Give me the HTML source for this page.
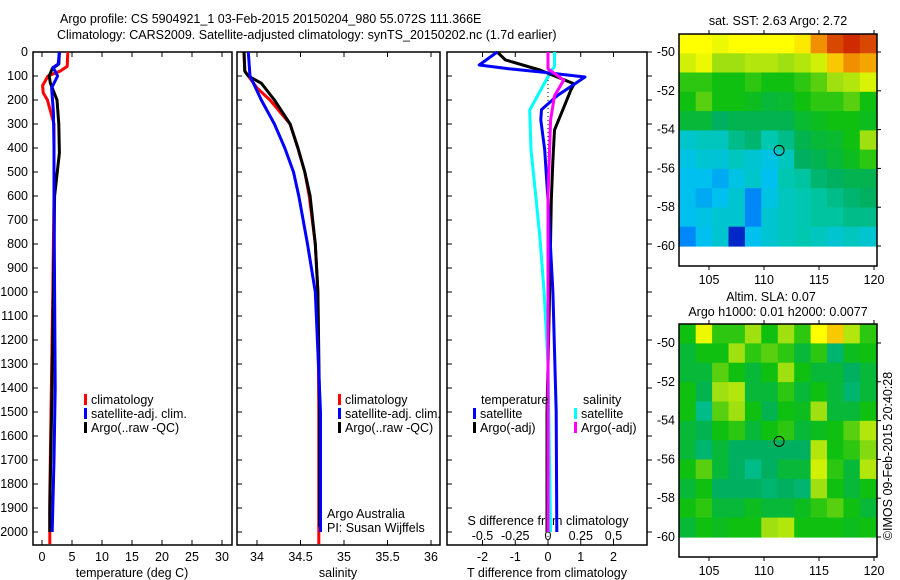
<!DOCTYPE html>
<html><head><meta charset="utf-8"><style>
body{margin:0;background:#fff;}
svg{display:block;font-family:"Liberation Sans",sans-serif;font-size:12.5px;}
</style></head><body>
<svg id="s" width="900" height="580" viewBox="0 0 900 580">
<text x="60" y="23">Argo profile: CS 5904921_1 03-Feb-2015 20150204_980 55.072S 111.366E</text>
<text x="57" y="39">Climatology: CARS2009. Satellite-adjusted climatology: synTS_20150202.nc (1.7d earlier)</text>
</svg>
<script>
// ---------- data ----------
const depthTicks=[0,100,200,300,400,500,600,700,800,900,1000,1100,1200,1300,1400,1500,1600,1700,1800,1900,2000];
const tempTicks=[0,5,10,15,20,25,30];
const salTicks=[34,34.5,35,35.5,36];
const tdiffTicks=[-2,-1,0,1,2];
const sdiffTicks=[-0.5,-0.25,0,0.25,0.5];
const climTDepth=[0,60,80,100,140,170,200,300,600,1000,1500,1850,2050];
const climTVal=[4.3,4.2,3.0,1.0,0.1,0.2,0.9,2.0,2.0,1.8,1.5,1.3,1.3];
const satTDepth=[0,50,65,80,100,150,250,400,600,1000,1400,1700,2000];
const satTVal=[2.9,2.7,1.8,2.2,2.6,1.6,1.9,2.0,2.0,2.1,2.2,2.0,1.7];
const argoTDepth=[0,50,70,100,130,200,300,420,600,1000,1500,1900,2000];
const argoTVal=[2.9,2.8,1.7,1.2,1.4,2.5,2.8,2.9,2.1,1.9,1.6,1.3,1.3];
const climSDepth=[0,80,100,150,200,300,400,500,600,800,1000,1500,2050];
const climSVal=[33.85,33.86,33.9,34.0,34.15,34.38,34.47,34.55,34.6,34.67,34.7,34.71,34.71];
const satSDepth=[0,100,200,300,400,500,600,800,1000,1500,2000];
const satSVal=[33.9,33.92,34.05,34.2,34.32,34.42,34.48,34.58,34.67,34.73,34.73];
const argoSDepth=[0,80,100,130,200,300,400,500,600,800,1000,1500,1980];
const argoSVal=[33.85,33.86,33.9,34.05,34.2,34.38,34.47,34.55,34.61,34.67,34.7,34.72,34.72];
const satTdDepth=[0,54,70,83,104,180,240,283,408,617,1000,1500,2000];
const satTdVal=[-1.55,-2.1,-1.2,-0.25,1.13,0.3,-0.2,-0.22,-0.1,0.0,0.15,0.25,0.27];
const argoTdDepth=[0,33,75,133,158,242,325,450,617,1000,1500,2000];
const argoTdVal=[-1.55,-1.3,-0.25,0.8,0.7,0.45,0.2,0.15,0.1,0.05,-0.03,-0.03];
const satSdDepth=[0,60,83,183,242,408,617,783,1000,1300,2000];
const satSdVal=[0.05,0.05,0.02,-0.08,-0.14,-0.13,-0.09,-0.06,-0.03,0.0,0.02];
const argoSdDepth=[0,70,117,183,283,600,1000,2000];
const argoSdVal=[0,0,0.12,0.05,0.02,0.0,0.0,0.0];
const sstGrid=[
[0.8,0.8,0.78,0.8,0.8,0.8,0.8,0.82,0.9,0.95,0.97,0.95],
[0.75,0.78,0.7,0.7,0.72,0.72,0.7,0.72,0.75,0.85,0.9,0.88],
[0.62,0.62,0.6,0.6,0.62,0.6,0.6,0.62,0.65,0.7,0.72,0.76],
[0.6,0.65,0.6,0.6,0.58,0.55,0.56,0.6,0.62,0.62,0.65,0.6],
[0.55,0.55,0.5,0.52,0.52,0.52,0.52,0.56,0.58,0.6,0.6,0.58],
[0.36,0.38,0.38,0.45,0.48,0.4,0.45,0.52,0.55,0.56,0.6,0.7],
[0.32,0.35,0.34,0.38,0.35,0.32,0.38,0.5,0.52,0.55,0.58,0.62],
[0.3,0.3,0.28,0.32,0.36,0.3,0.4,0.42,0.48,0.5,0.52,0.52],
[0.3,0.28,0.3,0.35,0.25,0.32,0.38,0.4,0.42,0.45,0.48,0.5],
[0.3,0.32,0.35,0.35,0.25,0.35,0.38,0.4,0.42,0.42,0.45,0.45],
[0.25,0.3,0.35,0.1,0.3,0.35,0.38,0.4,0.38,0.35,0.38,0.35]];
const slaGrid=[
[0.6,0.78,0.62,0.62,0.7,0.6,0.7,0.62,0.8,0.85,0.72,0.62],
[0.55,0.6,0.6,0.7,0.62,0.65,0.62,0.55,0.62,0.48,0.58,0.6],
[0.55,0.55,0.65,0.6,0.55,0.6,0.7,0.6,0.55,0.55,0.5,0.55],
[0.6,0.52,0.7,0.72,0.55,0.55,0.62,0.55,0.6,0.55,0.48,0.55],
[0.6,0.45,0.65,0.7,0.6,0.52,0.6,0.58,0.7,0.55,0.55,0.6],
[0.55,0.52,0.6,0.62,0.55,0.6,0.62,0.55,0.58,0.6,0.65,0.72],
[0.55,0.48,0.55,0.5,0.5,0.5,0.5,0.5,0.72,0.6,0.62,0.68],
[0.6,0.65,0.55,0.5,0.45,0.5,0.55,0.55,0.75,0.62,0.55,0.72],
[0.55,0.6,0.5,0.5,0.5,0.48,0.5,0.48,0.7,0.6,0.55,0.6],
[0.6,0.62,0.55,0.55,0.58,0.55,0.55,0.58,0.62,0.65,0.6,0.55],
[0.55,0.6,0.58,0.6,0.6,0.7,0.72,0.6,0.6,0.6,0.58,0.6]];
const latTicks=[-50,-52,-54,-56,-58,-60];
const lonTicks=[105,110,115,120];
const argoLon=111.37, argoLat=-55.07;

// ---------- helpers ----------
const svg=document.getElementById('s');
const NS='http://www.w3.org/2000/svg';
function mk(tag,attrs,txt){const e=document.createElementNS(NS,tag);for(const k in attrs)e.setAttribute(k,attrs[k]);if(txt!==undefined)e.textContent=txt;svg.appendChild(e);return e;}
const yD=d=>52+d*0.24;
const xT=t=>42+t*6.0;
const xS=s=>257+(s-34)*87;
const xTd=t=>548+t*32.75;
const xSd=s=>548+s*131;
const P=[{x0:33,x1:232},{x0:237,x1:440},{x0:447,x1:647}];
const YT=52,YB=545;

// frames
P.forEach((p,i)=>{
  const r=mk('rect',{x:p.x0,y:YT,width:p.x1-p.x0,height:YB-YT,fill:'none',stroke:'#000','stroke-width':1.5});
  
  
  depthTicks.forEach(d=>{const t=mk('line',{x1:p.x0,x2:p.x0+5,y1:yD(d),y2:yD(d),stroke:'#000'});
    });
});
depthTicks.forEach(d=>{
  const t=mk('text',{x:28,y:yD(d)+4,'text-anchor':'end'},d);
  
  
  const k=mk('line',{x1:647,x2:652,y1:yD(d),y2:yD(d),stroke:'#000'});
  
});
function xticks(ticks,fx,p,y,name){ticks.forEach(v=>{
  const x=fx(v);
  const a=mk('line',{x1:x,x2:x,y1:YB,y2:YB-5,stroke:'#000'});
  const b=mk('line',{x1:x,x2:x,y1:YT,y2:YT+5,stroke:'#000'});
  const t=mk('text',{x:x,y:y,'text-anchor':'middle'},v);
});}
xticks(tempTicks,xT,P[0],561,'temperature');
xticks(salTicks,xS,P[1],561,'salinity');
xticks(tdiffTicks,xTd,P[2],561,'tdiff');
sdiffTicks.forEach(v=>{const t=mk('text',{x:xSd(v),y:540,'text-anchor':'middle'},v);});
[['temperature (deg C)',132,'x-axis-title-temperature'],['salinity',338,'x-axis-title-salinity'],['T difference from climatology',547,'x-axis-title-tdiff']].forEach(a=>{
  const t=mk('text',{x:a[1],y:577,'text-anchor':'middle'},a[0]);});
{const t=mk('text',{x:548,y:525,'text-anchor':'middle'},'S difference from climatology');}

// zero dotted line
{const l=mk('line',{x1:548,x2:548,y1:yD(0),y2:yD(2050),stroke:'#000','stroke-dasharray':'1,3'});}

function line(ds,vs,fx,col,name,clip){
  const pts=ds.map((d,i)=>fx(vs[i]).toFixed(1)+','+yD(d).toFixed(1)).join(' ');
  const e=mk('polyline',{points:pts,fill:'none',stroke:col,'stroke-width':3,'stroke-linejoin':'round'});
  
  
}
line(climTDepth,climTVal,xT,'#f00','temp-climatology-line');
line(argoTDepth,argoTVal,xT,'#000','temp-argo-line');
line(satTDepth,satTVal,xT,'#00f','temp-satellite-line');
line(climSDepth,climSVal,xS,'#f00','sal-climatology-line');
line(argoSDepth,argoSVal,xS,'#000','sal-argo-line');
line(satSDepth,satSVal,xS,'#00f','sal-satellite-line');
line(satSdDepth,satSdVal,xSd,'#0ff','sdiff-satellite-line');
line(argoTdDepth,argoTdVal,xTd,'#000','tdiff-argo-line');
line(satTdDepth,satTdVal,xTd,'#00f','tdiff-satellite-line');
line(argoSdDepth,argoSdVal,xSd,'#f0f','sdiff-argo-line');

// legends
function leg(x,y,col,txt,name){
  const r=mk('rect',{x:x,y:y-10,width:3,height:11,fill:col});
  const t=mk('text',{x:x+7,y:y},txt);
}
[[84,'#f00','climatology'],[84,'#00f','satellite-adj. clim.'],[84,'#000','Argo(..raw -QC)']].forEach((a,i)=>leg(a[0],404+i*14,a[1],a[2],'legend-temp-'+i));
[[338,'#f00','climatology'],[338,'#00f','satellite-adj. clim.'],[338,'#000','Argo(..raw -QC)']].forEach((a,i)=>leg(a[0],404+i*14,a[1],a[2],'legend-sal-'+i));
{const t=mk('text',{x:481,y:404},'temperature');
 const u=mk('text',{x:583,y:404},'salinity');}
leg(473,418,'#00f','satellite','legend-diff-t-sat');
leg(473,432,'#000','Argo(-adj)','legend-diff-t-argo');
leg(574,418,'#0ff','satellite','legend-diff-s-sat');
leg(574,432,'#f0f','Argo(-adj)','legend-diff-s-argo');
{const t=mk('text',{x:327,y:518},'Argo Australia');
 const u=mk('text',{x:327,y:532},'PI: Susan Wijffels');}

// maps
const stops=[[0,[0,0,140]],[0.2,[0,80,255]],[0.3,[0,192,240]],[0.4,[0,200,176]],[0.5,[0,176,96]],[0.6,[16,192,16]],[0.7,[160,224,16]],[0.8,[255,255,0]],[0.9,[240,144,0]],[1,[192,0,0]]];
function cmap(v){for(let i=1;i<stops.length;i++){if(v<=stops[i][0]){const a=stops[i-1],b=stops[i],f=(v-a[0])/(b[0]-a[0]);const c=a[1].map((x,j)=>Math.round(x+(b[1][j]-x)*f));return 'rgb('+c+')';}}return 'rgb(192,0,0)';}
function map(y0,y1,lat50,grid,name){
  const xL=679,xR=877;
  const lx=lon=>709+(lon-105)*11;
  const ly=lat=>lat50+(-50-lat)*19.4;
  const latTop=-50+(lat50-y0)/19.4;
  const rows=grid.length,cols=grid[0].length;
  const lonStep=(120.2-102.3)/cols, latStep=(latTop-(-60))/rows;
  grid.forEach((row,r)=>row.forEach((v,c)=>{
    const xa=lx(102.3+c*lonStep),xb=lx(102.3+(c+1)*lonStep);
    const ya=ly(latTop-r*latStep),yb=ly(latTop-(r+1)*latStep);
    const e=mk('rect',{x:xa.toFixed(1),y:ya.toFixed(1),width:(xb-xa+0.6).toFixed(1),height:(yb-ya+0.6).toFixed(1),fill:cmap(v)});
    
    
  }));
  const f=mk('rect',{x:xL,y:y0,width:xR-xL,height:y1-y0,fill:'none',stroke:'#000','stroke-width':1.5});
  
  latTicks.forEach(l=>{const y=ly(l);
    const a=mk('line',{x1:xR,x2:xR+4,y1:y,y2:y,stroke:'#000'});
    const t=mk('text',{x:675,y:y+4,'text-anchor':'end'},l);});
  lonTicks.forEach(l=>{const x=lx(l);
    const a=mk('line',{x1:x,x2:x,y1:y0,y2:y0-4,stroke:'#000'});
    const b=mk('line',{x1:x,x2:x,y1:y1,y2:y1+4,stroke:'#000'});
    const t=mk('text',{x:x,y:y1+18,'text-anchor':'middle'},l);});
  const c=mk('circle',{cx:lx(argoLon),cy:ly(argoLat),r:5,fill:'none',stroke:'#000','stroke-width':1});
  
}
map(34,266,52,sstGrid,'sst-map');
map(324,557,343,slaGrid,'sla-map');
{const t=mk('text',{x:778,y:25,'text-anchor':'middle'},'sat. SST: 2.63 Argo: 2.72');
 const u=mk('text',{x:771,y:301,'text-anchor':'middle'},'Altim. SLA: 0.07');
 const v=mk('text',{x:778,y:316,'text-anchor':'middle'},'Argo h1000: 0.01 h2000: 0.0077');
 const w=mk('text',{x:0,y:0,'text-anchor':'middle',transform:'translate(892,456) rotate(-90)'},'©IMOS 09-Feb-2015 20:40:28');}
</script>
</body></html>
